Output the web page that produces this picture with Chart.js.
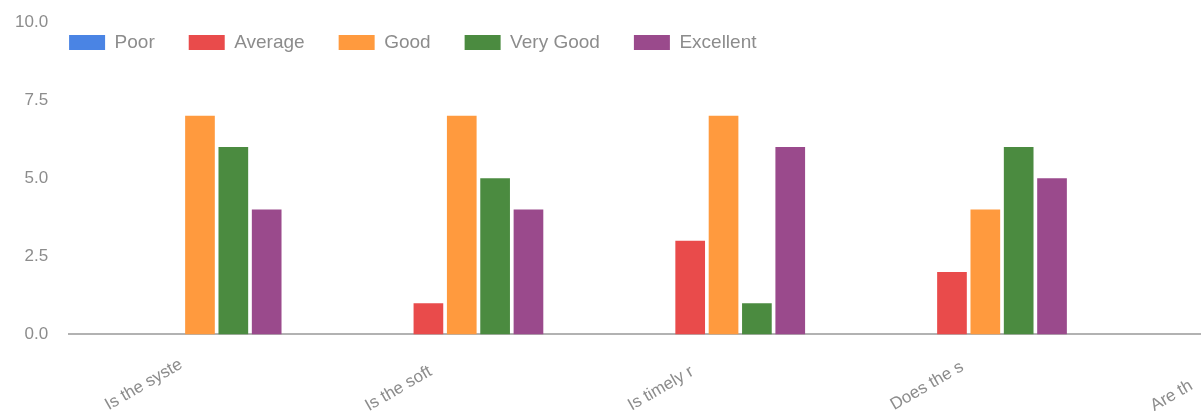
<!DOCTYPE html>
<html>
<head>
<meta charset="utf-8">
<script src="https://cdn.jsdelivr.net/npm/chart.js@4.4.1/dist/chart.umd.min.js"></script>
<style>
  html, body { margin: 0; padding: 0; background: #ffffff; overflow: hidden; }
  #wrap { position: relative; width: 1391px; height: 411px; }
</style>
</head>
<body>
<div id="wrap"><canvas id="chart"></canvas></div>
<script>
// ---- data ----
const categories = ['Is the syste', 'Is the soft', 'Is timely r', 'Does the s', 'Are th'];
const seriesNames = ['Poor', 'Average', 'Good', 'Very Good', 'Excellent'];
const poor      = [0, 0, 0, 0, 0];
const average   = [0, 1, 3, 2, 0];
const good      = [7, 7, 7, 4, 0];
const veryGood  = [6, 5, 1, 6, 0];
const excellent = [4, 4, 6, 5, 0];
const yTicks    = [0, 2.5, 5, 7.5, 10];

// ---- style ----
const colors = ['#4a84e4', '#e94b4b', '#ff9a3e', '#4b8b40', '#9a4a8c'];
const FONT = '"Liberation Sans", Arial, Helvetica, sans-serif';
const TICK_SIZE = 17;
const LEG_SIZE = 19;
const LEG_PAD = 34;
const LEG_BOX_H = 15;
const TEXT_COLOR = '#8c8c8c';

Chart.defaults.font.family = FONT;

// pad labels with trailing spaces to the width of the widest one,
// so that every rotated label starts at the same place relative to its tick
const mctx = document.createElement('canvas').getContext('2d');
mctx.font = TICK_SIZE + 'px ' + FONT;
const widest = Math.max(...categories.map(c => mctx.measureText(c).width));
function padLabel(s) {
  let t = s;
  while (mctx.measureText(t + ' ').width <= widest + 2.5) t += ' ';
  return t;
}

// legend drawn over the top of the plot area, aligned with its left edge
const legendInside = {
  id: 'legendInside',
  afterLayout(chart, args, opts) {
    const lg = chart.legend;
    if (!lg) return;
    const pad = lg.options.labels.padding;
    const w = lg.right - lg.left;
    const h = lg.bottom - lg.top;
    lg.left = chart.chartArea.left - pad + opts.dx;
    lg.right = lg.left + w;
    lg.top = chart.chartArea.top + opts.dy - pad;
    lg.bottom = lg.top + h;
  }
};

const seriesValues = [poor, average, good, veryGood, excellent];
const legendHeight = Math.max(LEG_SIZE, LEG_BOX_H) + LEG_PAD + 10;

new Chart(document.getElementById('chart'), {
  type: 'bar',
  data: {
    labels: categories,
    datasets: seriesNames.map((name, i) => ({
      label: name,
      data: seriesValues[i],
      backgroundColor: colors[i],
      borderWidth: 0,
      categoryPercentage: 0.637,
      barPercentage: 0.89
    }))
  },
  plugins: [legendInside],
  options: {
    responsive: true,
    maintainAspectRatio: false,
    animation: false,
    devicePixelRatio: 1,
    layout: { padding: { left: 12, right: 13, top: 22 - legendHeight, bottom: -8 } },
    plugins: {
      legendInside: { dx: 0, dy: 11 },
      legend: {
        position: 'top',
        align: 'start',
        labels: {
          color: TEXT_COLOR,
          font: { size: LEG_SIZE, family: FONT },
          boxWidth: 36,
          boxHeight: LEG_BOX_H,
          padding: LEG_PAD
        }
      },
      tooltip: { enabled: false },
      title: { display: false }
    },
    scales: {
      x: {
        grid: { display: false, drawTicks: true, tickLength: 17 },
        border: { display: true, color: '#b2b2b2', width: 2 },
        ticks: {
          color: TEXT_COLOR,
          font: { size: TICK_SIZE, family: FONT },
          padding: 3,
          minRotation: 30,
          maxRotation: 30,
          autoSkip: false,
          labelOffset: -19,
          callback: function (value, index) { return padLabel(categories[index]); }
        }
      },
      y: {
        min: 0,
        max: 10,
        grid: { display: false, drawTicks: true, tickLength: 18 },
        border: { display: false },
        afterBuildTicks: function (scale) { scale.ticks = yTicks.map(v => ({ value: v })); },
        ticks: {
          color: TEXT_COLOR,
          font: { size: TICK_SIZE, family: FONT },
          padding: 3,
          callback: function (value) { return Number(value).toFixed(1); }
        }
      }
    }
  }
});
</script>
</body>
</html>
